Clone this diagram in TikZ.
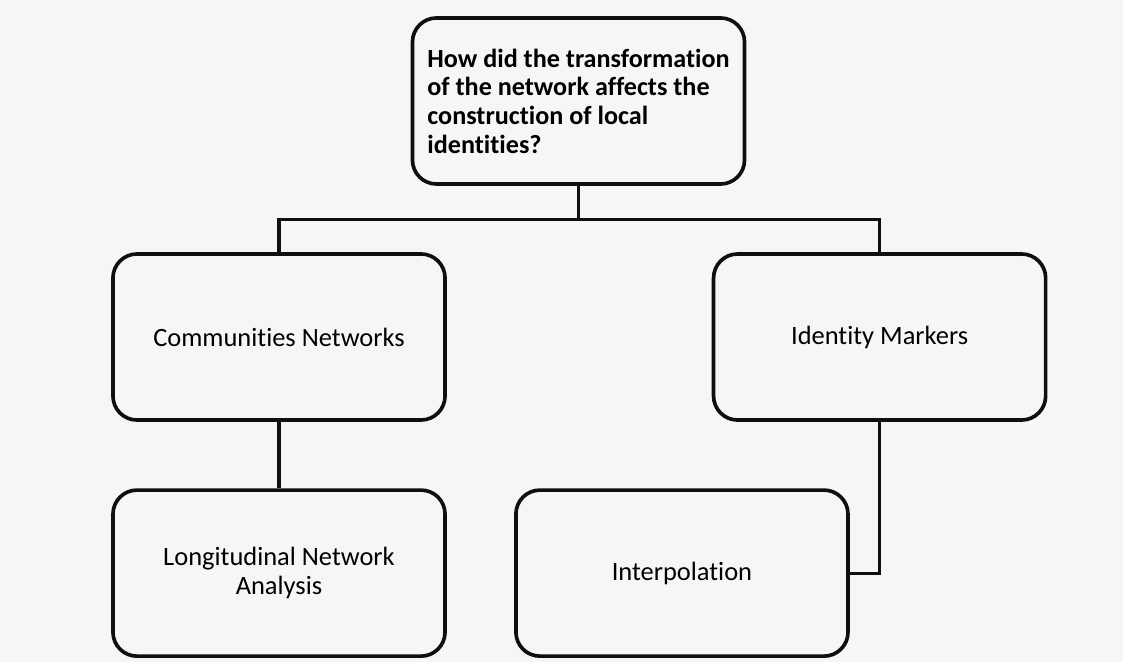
\documentclass[tikz,border=0pt]{standalone}
\usepackage{fontspec}
\setmainfont{Carlito}[Ligatures=NoCommon]
\usepackage{tikz}
\usetikzlibrary{positioning}
\definecolor{PaperGray}{RGB}{246,246,244}
\definecolor{InkBlack}{RGB}{15,15,15}

\begin{document}
\begin{tikzpicture}[
        % --- HỆ TỌA ĐỘ: 1 đơn vị = 1 điểm ảnh ---
        x=0.025cm, y=-0.025cm,
        node distance=1.66cm,
        % --- STYLE CÁC HỘP ---
        % Style cho các hộp chủ đề
        topicbox/.style={
            rectangle, draw=InkBlack, line width=2.6pt, rounded corners=0.6cm,
            minimum width=8.3cm, minimum height=4.15cm,
            align=center, font=\fontsize{18.8}{20.4}\selectfont
        },
        % Style cho câu hỏi nghiên cứu (chữ đậm, căn trái)
        question/.style={
            topicbox, align=left,
            font=\fontsize{18.6}{20.4}\selectfont\bfseries
        },
        % Đường nối mảnh, không mũi tên
        joinline/.style={draw=InkBlack, line width=2.2pt}
    ]

        % --- NỀN GIẤY ---
        \fill[PaperGray] (0,0) rectangle (1123,662);

        % --- GỐC: Câu hỏi ---
        \node[question] (q) at (578.5,101)
            {How did the transformation\\of the network affects the\\construction of local\\identities?};

        % --- NHÁNH 1 ---
        \node[topicbox] (comm) at (279,337) {Communities Networks};
        \node[topicbox, below=of comm] (longi) {Longitudinal Network\\Analysis};

        % --- NHÁNH 2 ---
        \node[topicbox, right=6.62cm of comm] (ident) {Identity Markers};
        \node[topicbox, right=1.68cm of longi] (interp) {Interpolation};

        % --- ĐƯỜNG NỐI ---
        \coordinate (bus) at ([yshift=-0.83cm]q.south);
        \draw[joinline] (q.south) -- (bus);
        \draw[joinline] (comm.north) |- (bus) -| (ident.north);
        \draw[joinline] (comm.south) -- (longi.north);
        \draw[joinline] (ident.south) |- (interp.east);

    \end{tikzpicture}
\end{document}
